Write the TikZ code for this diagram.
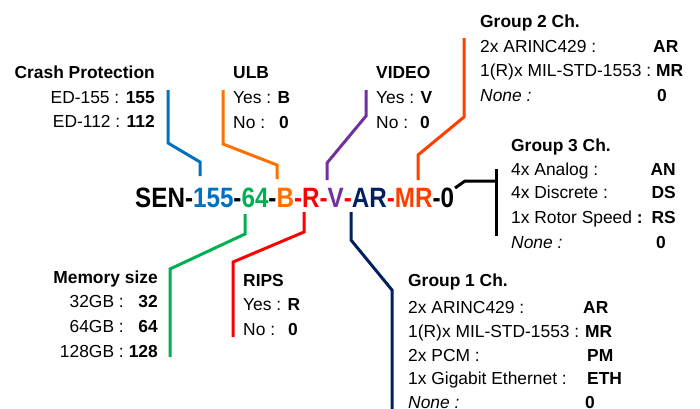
\documentclass[tikz,border=0pt]{standalone}
\usepackage{fontspec}
\setmainfont{Liberation Sans}
\newfontfamily\codefont[FakeStretch=0.865]{Liberation Sans}
\usepackage{xcolor}
\usetikzlibrary{positioning}

\definecolor{crashblue}{HTML}{0070C0}
\definecolor{memgreen}{HTML}{00B050}
\definecolor{ulborange}{HTML}{FF7000}
\definecolor{ripsred}{HTML}{FF0000}
\definecolor{videopurple}{HTML}{7030A0}
\definecolor{grpnavy}{HTML}{002060}
\definecolor{grpred}{HTML}{FF3F00}

\begin{document}
\begin{tikzpicture}[x=1pt,y=-1pt,
    txt/.style={inner sep=0pt, font=\fontsize{17.4}{20}\selectfont},
    ttl/.style={inner sep=0pt, font=\fontsize{17.4}{20}\selectfont\bfseries},
    lead/.style={line width=3pt}]
        \useasboundingbox (0,0) rectangle (700,408);

        % Part number
        \node[inner sep=0pt, anchor=base west, font=\codefont\fontsize{28}{30}\selectfont\bfseries] (code) at (135,207)
            {SEN-\textcolor{crashblue}{155}-\textcolor{memgreen}{64}-\textcolor{ulborange}{B}\textcolor{ripsred}{-R-}\textcolor{videopurple}{V}\textcolor{ripsred}{-}\textcolor{grpnavy}{AR}\textcolor{ripsred}{-}\textcolor{grpred}{MR}-0};

        % Coordinates
        \coordinate (C1) at (168,90);  \coordinate (C2) at (168,143);
        \coordinate (C3) at (200,162); \coordinate (C4) at (200,176);
        \coordinate (U1) at (223,90);  \coordinate (U2) at (223,144);
        \coordinate (U3) at (277,165); \coordinate (U4) at (277,179);
        \coordinate (V1) at (366,90);  \coordinate (V2) at (366,116);
        \coordinate (V3) at (327,163); \coordinate (V4) at (327,180);
        \coordinate (T1) at (464,38);  \coordinate (T2) at (464,117);
        \coordinate (T3) at (418,155); \coordinate (T4) at (418,180);
        \coordinate (M1) at (245,214); \coordinate (M2) at (245,234);
        \coordinate (M3) at (170,269); \coordinate (M4) at (170,357);
        \coordinate (R1) at (304,212); \coordinate (R2) at (304,232);
        \coordinate (R3) at (233,262); \coordinate (R4) at (233,337);
        \coordinate (G1) at (351,212); \coordinate (G2) at (351,240);
        \coordinate (G3) at (392,290); \coordinate (G4) at (392,410);
        \coordinate (B1) at (455,188); \coordinate (B2) at (465,181);
        \coordinate (B3) at (496,181);
        \coordinate (B4) at (496,169); \coordinate (B5) at (496,236);

        % Leads
        \draw[lead, crashblue] (C1) -- (C2) -- (C3) -- (C4);
        \draw[lead, ulborange] (U1) -- (U2) -- (U3) -- (U4);
        \draw[lead, videopurple] (V1) -- (V2) -- (V3) -- (V4);
        \draw[lead, grpred] (T1) -- (T2) -- (T3) -- (T4);
        \draw[lead, memgreen] (M1) -- (M2) -- (M3) -- (M4);
        \draw[lead, ripsred] (R1) -- (R2) -- (R3) -- (R4);
        \draw[lead, grpnavy] (G1) -- (G2) -- (G3) -- (G4);
        \draw[lead] (B1) -- (B2) -- (B3);
        \draw[lead] (B4) -- (B5);

        % Crash protection
        \node[ttl, anchor=base east] (crash) at (155,78) {Crash Protection};
        \node[txt, anchor=base east] (crasha) at (155,103) {ED-155 : \textbf{155}};
        \node[txt, anchor=base east] (crashb) at (155,127) {ED-112 : \textbf{112}};

        % ULB
        \node[ttl, anchor=base west] (ulb) at (233,78) {ULB};
        \node[txt, anchor=base west] (ulba) at (233,103) {Yes : \textbf{B}};
        \node[txt, anchor=base west] (ulbb) at (233,128) {No :};
        \node[txt, anchor=base east] (ulbz) at (289,128) {\textbf{0}};

        % Video
        \node[ttl, anchor=base west] (video) at (376,78) {VIDEO};
        \node[txt, anchor=base west] (videoa) at (376,103) {Yes : \textbf{V}};
        \node[txt, anchor=base west] (videob) at (376,128) {No :};
        \node[txt, anchor=base east] (videoz) at (430,128) {\textbf{0}};

        % Group 2
        \node[ttl, anchor=base west] (grptwo) at (480,27) {Group 2 Ch.};
        \node[txt, anchor=base west] (grptwoa) at (480,52) {2x ARINC429 :};
        \node[txt, anchor=base west] (grptwob) at (480,76) {1(R)x MIL-STD-1553 :};
        \node[txt, anchor=base west] (grptwoc) at (480,101) {\itshape None :};
        \node[txt, anchor=base west] (grptwoav) at (653,52) {\textbf{AR}};
        \node[txt, anchor=base west] (grptwobv) at (656,76) {\textbf{MR}};
        \node[txt, anchor=base west] (grptwocv) at (657,101) {\textbf{0}};

        % Group 3
        \node[ttl, anchor=base west] (grpthree) at (511,151) {Group 3 Ch.};
        \node[txt, anchor=base west] (grpthreea) at (511,175) {4x Analog :};
        \node[txt, anchor=base west] (grpthreeb) at (511,198) {4x Discrete :};
        \node[txt, anchor=base west] (grpthreec) at (511,223) {1x Rotor Speed \textbf{:}};
        \node[txt, anchor=base west] (grpthreed) at (511,248) {\itshape None :};
        \node[txt, anchor=base east] (grpthreeav) at (676,175) {\textbf{AN}};
        \node[txt, anchor=base east] (grpthreebv) at (676,198) {\textbf{DS}};
        \node[txt, anchor=base east] (grpthreecv) at (676,223) {\textbf{RS}};
        \node[txt, anchor=base west] (grpthreedv) at (656,248) {\textbf{0}};

        % Memory size
        \node[ttl, anchor=base east] (mem) at (158,283) {Memory size};
        \node[txt, anchor=base east] (mema) at (124,307) {32GB :};
        \node[txt, anchor=base east] (memb) at (124,332) {64GB :};
        \node[txt, anchor=base east] (memc) at (124,357) {128GB :};
        \node[txt, anchor=base east] (memav) at (158,307) {\textbf{32}};
        \node[txt, anchor=base east] (membv) at (158,332) {\textbf{64}};
        \node[txt, anchor=base east] (memcv) at (158,357) {\textbf{128}};

        % RIPS
        \node[ttl, anchor=base west] (rips) at (243,286) {RIPS};
        \node[txt, anchor=base west] (ripsa) at (243,310) {Yes : \textbf{R}};
        \node[txt, anchor=base west] (ripsb) at (243,335) {No :};
        \node[txt, anchor=base east] (ripsz) at (298,335) {\textbf{0}};

        % Group 1
        \node[ttl, anchor=base west] (grpone) at (408,286) {Group 1 Ch.};
        \node[txt, anchor=base west] (grponea) at (408,313) {2x ARINC429 :};
        \node[txt, anchor=base west] (grponeb) at (408,337) {1(R)x MIL-STD-1553 :};
        \node[txt, anchor=base west] (grponec) at (408,361) {2x PCM :};
        \node[txt, anchor=base west] (grponed) at (408,384) {1x Gigabit Ethernet :};
        \node[txt, anchor=base west] (grponee) at (408,408) {\itshape None :};
        \node[txt, anchor=base west] (grponeav) at (583,313) {\textbf{AR}};
        \node[txt, anchor=base west] (grponebv) at (585,337) {\textbf{MR}};
        \node[txt, anchor=base west] (grponecv) at (587,361) {\textbf{PM}};
        \node[txt, anchor=base west] (grponedv) at (587,384) {\textbf{ETH}};
        \node[txt, anchor=base west] (grponeev) at (585,408) {\textbf{0}};

    \end{tikzpicture}
\end{document}
